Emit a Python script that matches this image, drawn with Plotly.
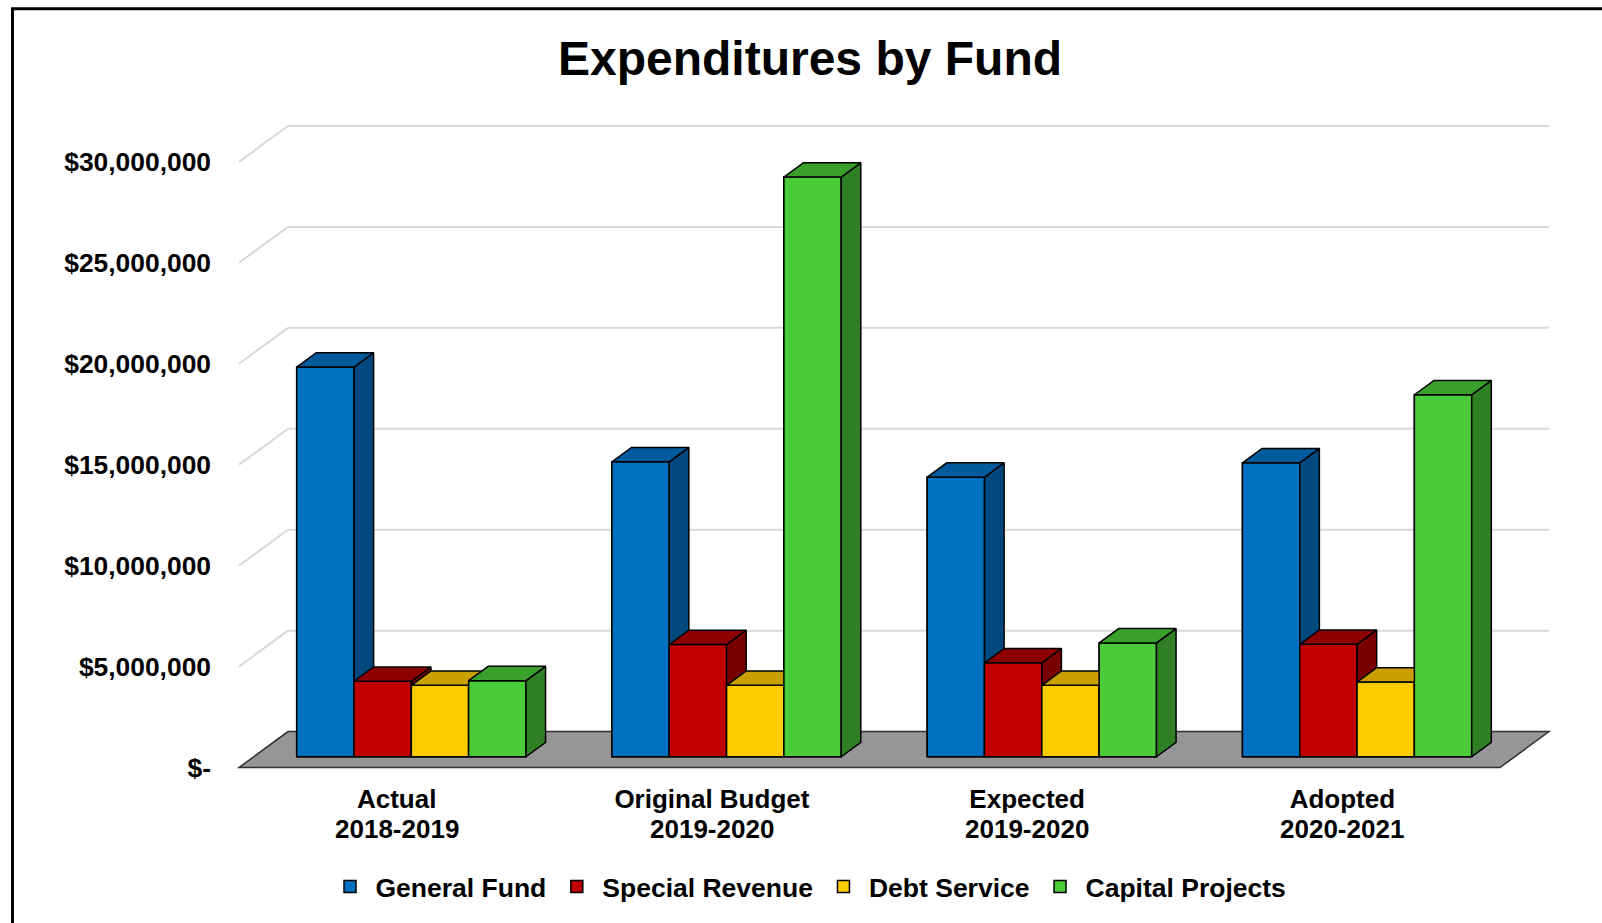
import plotly.graph_objects as go

# ---- data ---------------------------------------------------------------
category_names = ["Actual", "Original Budget", "Expected", "Adopted"]
fiscal_years = ["2018-2019", "2019-2020", "2019-2020", "2020-2021"]
series_names = ["General Fund", "Special Revenue", "Debt Service", "Capital Projects"]
general_fund = [19.30e6, 14.61e6, 13.85e6, 14.56e6]
special_revenue = [3.74e6, 5.56e6, 4.65e6, 5.57e6]
debt_service = [3.54e6, 3.54e6, 3.54e6, 3.70e6]
capital_projects = [3.77e6, 28.71e6, 5.64e6, 17.93e6]
y_tick_values = [0, 5e6, 10e6, 15e6, 20e6, 25e6, 30e6]
y_tick_labels = ["$-", "$5,000,000", "$10,000,000", "$15,000,000",
                 "$20,000,000", "$25,000,000", "$30,000,000"]

# ---- styling --------------------------------------------------------------
front_colors = ["#0070C0", "#C00000", "#FFCC00", "#4ACB38"]
top_colors = ["#005A9C", "#8E0000", "#C9A000", "#38A02B"]
side_colors = ["#00487E", "#780000", "#A88800", "#2F8024"]
FONT = "Liberation Sans, Arial, sans-serif"

# ---- page / axis geometry (pixels) ---------------------------------------
W, H = 1602, 923
ML, MR, MT, MB = 230, 42, 110, 148
plot_w = W - ML - MR
plot_h = H - MT - MB
cat_px = 315.25            # pixels per category on the front plane
px_per_val = 20.25 / 1e6   # pixels per dollar
front_left_px = 239
zero_px = 769.5

x_lo = -0.5 - (front_left_px - ML) / cat_px
x_hi = x_lo + plot_w / cat_px
y_hi = (zero_px - MT) / px_per_val
y_lo = y_hi - plot_h / px_per_val

# oblique depth of the floor, in axis units
DX = 49 / cat_px
DY = 36 / px_per_val
BAR_W = 1 / 5.5            # gap width 150%
FRONT, BACK = 0.3, 0.7     # bar depth position within the floor
ddx = (BACK - FRONT) * DX
ddy = (BACK - FRONT) * DY

values = [general_fund, special_revenue, debt_service, capital_projects]
n_cat = len(category_names)

fig = go.Figure()

# front faces as real bars (also provide the legend)
for k, (name, vals) in enumerate(zip(series_names, values)):
    fig.add_trace(go.Bar(
        x=list(range(n_cat)), y=vals, base=FRONT * DY,
        offset=-2 * BAR_W + k * BAR_W + FRONT * DX, width=BAR_W,
        name=name,
        marker=dict(color=front_colors[k], line=dict(color="black", width=1.5)),
        hoverinfo="skip",
    ))

# solid blocks painted left to right so nearer faces cover farther ones
for c in range(n_cat):
    for k in range(len(values)):
        v = values[k][c]
        x0 = c - 2 * BAR_W + k * BAR_W + FRONT * DX
        x1 = x0 + BAR_W
        y0 = FRONT * DY
        y1 = y0 + v
        faces = [
            (([x0, x1, x1, x0, x0], [y0, y0, y1, y1, y0]), front_colors[k]),
            (([x1, x1 + ddx, x1 + ddx, x1, x1],
              [y0, y0 + ddy, y1 + ddy, y1, y0]), side_colors[k]),
            (([x0, x1, x1 + ddx, x0 + ddx, x0],
              [y1, y1, y1 + ddy, y1 + ddy, y1]), top_colors[k]),
        ]
        for (xs, ys), col in faces:
            fig.add_trace(go.Scatter(
                x=xs, y=ys, mode="lines", fill="toself", fillcolor=col,
                line=dict(color="black", width=1.5),
                hoverinfo="skip", showlegend=False,
            ))

# back wall gridlines and side-wall diagonals
shapes = []
for v in y_tick_values[1:]:
    shapes.append(dict(type="line", xref="x", yref="y", layer="below",
                       x0=-0.5 + DX, x1=n_cat - 0.5 + DX, y0=v + DY, y1=v + DY,
                       line=dict(color="#D9D9D9", width=2)))
    shapes.append(dict(type="line", xref="x", yref="y", layer="below",
                       x0=-0.5, x1=-0.5 + DX, y0=v, y1=v + DY,
                       line=dict(color="#D9D9D9", width=2)))

# floor
shapes.append(dict(
    type="path", xref="x", yref="y", layer="below",
    path=(f"M {-0.5},0 L {n_cat - 0.5},0 L {n_cat - 0.5 + DX},{DY} "
          f"L {-0.5 + DX},{DY} Z"),
    fillcolor="#969696", line=dict(color="#303030", width=1.5),
))


def px_to_paper_x(p):
    return (p - ML) / plot_w


def px_to_paper_y(p):
    return (H - MB - p) / plot_h


# chart frame
shapes.append(dict(
    type="rect", xref="paper", yref="paper", layer="above",
    x0=px_to_paper_x(12.5), x1=px_to_paper_x(1625),
    y0=px_to_paper_y(945), y1=px_to_paper_y(8.5),
    line=dict(color="black", width=3), fillcolor="rgba(0,0,0,0)",
))

tick_font = dict(family=FONT, size=26, color="black", weight="bold")

# second line of each category label: the fiscal year
annotations = [
    dict(x=c, xref="x", y=px_to_paper_y(831), yref="paper",
         text=yr, showarrow=False, xanchor="center", yanchor="middle",
         font=tick_font)
    for c, yr in enumerate(fiscal_years)
]

fig.update_layout(
    width=W, height=H,
    margin=dict(l=ML, r=MR, t=MT, b=MB),
    paper_bgcolor="white", plot_bgcolor="white",
    barmode="overlay",
    font=dict(family=FONT, color="black"),
    title=dict(text="Expenditures by Fund", x=810 / W, xanchor="center",
               y=1 - 58 / H, yanchor="middle",
               font=dict(family=FONT, size=48, color="black", weight="bold")),
    legend=dict(orientation="h", x=px_to_paper_x(808), xanchor="center",
                y=px_to_paper_y(889), yanchor="middle", itemwidth=41,
                font=dict(family=FONT, size=26.5, color="black", weight="bold"),
                bgcolor="rgba(0,0,0,0)"),
    xaxis=dict(range=[x_lo, x_hi], tickvals=list(range(n_cat)),
               ticktext=category_names, ticklabelstandoff=8,
               showgrid=False, zeroline=False, showline=False, ticks="",
               tickfont=tick_font, automargin=False, fixedrange=True),
    yaxis=dict(range=[y_lo, y_hi], tickvals=y_tick_values, ticktext=y_tick_labels,
               showgrid=False, zeroline=False, showline=False, ticks="",
               tickfont=dict(family=FONT, size=26.4, color="black", weight="bold"),
               ticklabelstandoff=18, automargin=False, fixedrange=True),
    shapes=shapes,
    annotations=annotations,
)

fig.write_html("out.html", config={"displayModeBar": False})
